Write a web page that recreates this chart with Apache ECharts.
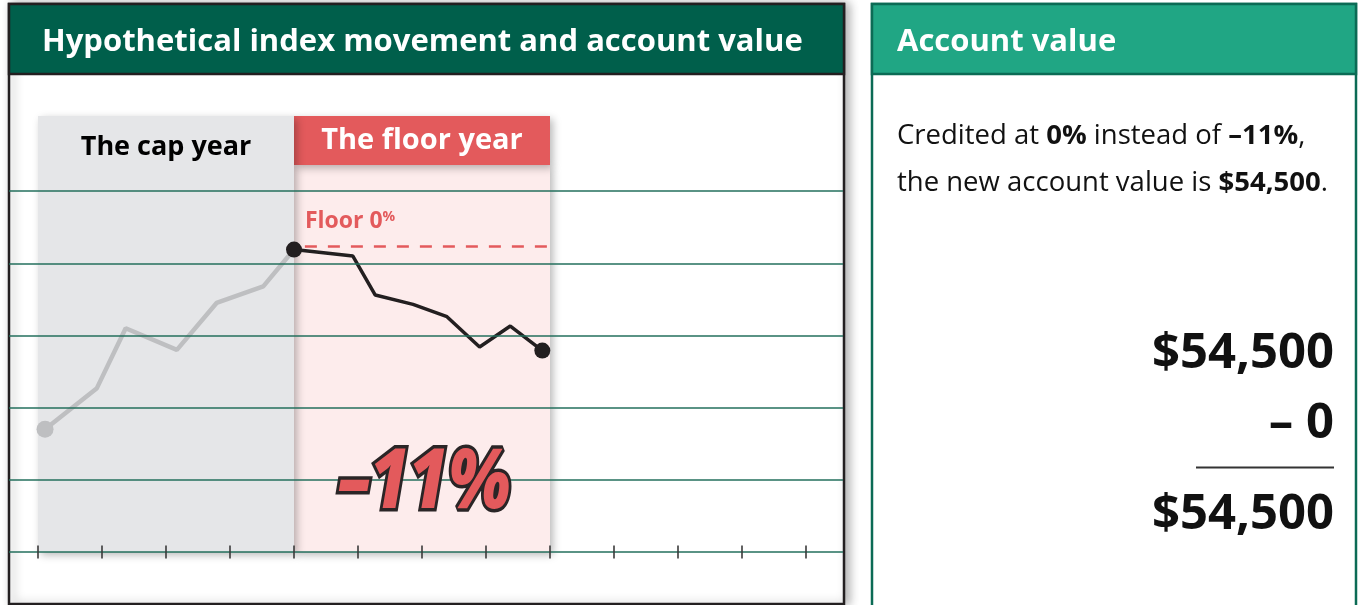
<!DOCTYPE html>
<html>
<head>
<meta charset="utf-8">
<script src="https://cdn.jsdelivr.net/npm/echarts@6/dist/echarts.min.js"></script>
<style>
  html, body { margin: 0; padding: 0; background: #fff; }
  #chart { width: 1361px; height: 605px; }
</style>
</head>
<body>
<div id="chart"></div>
<script>
// index path, x = tick step (12 steps on the axis), y = grid rows
const capX = [0.11, 0.92, 1.37, 2.17, 2.79, 3.52, 4.0];
const capY = [1.70, 2.27, 3.10, 2.80, 3.45, 3.68, 4.19];
const floorX = [4.0, 4.92, 5.27, 5.86, 6.39, 6.90, 7.38, 7.88];
const floorY = [4.19, 4.10, 3.56, 3.43, 3.26, 2.84, 3.13, 2.79];
const floorLevel = 4.23;

const yearNames = ['The cap year', 'The floor year'];
const yearSpans = [[0, 4], [4, 8]];
const xTicks = [0, 1, 2, 3, 4, 5, 6, 7, 8, 9, 10, 11, 12];
const yTicks = [0, 1, 2, 3, 4, 5];

const bandTop = 6.04;
const tabBottom = 5.36;

const chart = echarts.init(document.getElementById('chart'), null, { renderer: 'canvas' });

const font = '"Open Sans", "Lato", sans-serif';
const red = '#E35A5C';

function pairs(xs, ys) {
  return xs.map((x, i) => [x, ys[i]]);
}

const capData = pairs(capX, capY).map((p, i) => ({
  value: p,
  symbolSize: i === 0 ? 17 : 0
}));
const floorData = pairs(floorX, floorY).map((p, i) => ({
  value: p,
  symbolSize: (i === 0 || i === floorX.length - 1) ? 16 : 0
}));

const shadow = {
  shadowBlur: 8,
  shadowColor: 'rgba(0,0,0,0.28)',
  shadowOffsetX: 3,
  shadowOffsetY: 3
};

var option = {
  animation: false,
  backgroundColor: '#fff',
  grid: {
    left: 9,
    right: 518,
    top: 116,
    bottom: 53,
    containLabel: false
  },
  xAxis: {
    type: 'value',
    min: -29 / 64,
    max: 805 / 64,
    offset: -6.5,
    z: 6,
    axisLine: { show: false },
    axisLabel: { show: false },
    splitLine: { show: false },
    axisTick: {
      show: true,
      customValues: xTicks,
      length: 13,
      lineStyle: { color: '#3a3a3a', width: 1.6 }
    }
  },
  yAxis: {
    type: 'value',
    min: 0,
    max: bandTop,
    axisLine: { show: false },
    axisTick: { show: false },
    axisLabel: { show: false },
    splitLine: { show: false }
  },
  graphic: [
    // left panel
    {
      type: 'rect', z: -10,
      shape: { x: 9, y: 4, width: 835, height: 600 },
      style: { fill: '#fff', stroke: '#231F20', lineWidth: 2.5,
        shadowBlur: 10, shadowColor: 'rgba(0,0,0,0.3)', shadowOffsetX: 4 }
    },
    {
      type: 'rect', z: 10,
      shape: { x: 9, y: 4, width: 835, height: 70 },
      style: { fill: '#005F4B', stroke: '#231F20', lineWidth: 2.5 }
    },
    {
      type: 'text', z: 11, x: 42, y: 42,
      style: { text: 'Hypothetical index movement and account value', fill: '#fff',
        font: '700 31px ' + font, verticalAlign: 'middle' }
    },
    // -11% stamp
    {
      type: 'text', z: 20, x: 424, y: 484, scaleX: 0.8,
      style: {
        text: '–11%', fill: red, stroke: '#2a2526', lineWidth: 7,
        font: 'italic 800 84px ' + font,
        align: 'center', verticalAlign: 'middle',
        shadowBlur: 6, shadowColor: 'rgba(0,0,0,0.25)', shadowOffsetX: 3, shadowOffsetY: 3
      }
    },
    // right panel
    {
      type: 'rect', z: -10,
      shape: { x: 872, y: 4, width: 484, height: 610 },
      style: { fill: '#fff', stroke: '#0B6B55', lineWidth: 2.5 }
    },
    {
      type: 'rect', z: 10,
      shape: { x: 872, y: 4, width: 484, height: 70 },
      style: { fill: '#20A684', stroke: '#0B6B55', lineWidth: 2.5 }
    },
    {
      type: 'text', z: 11, x: 897, y: 42,
      style: { text: 'Account value', fill: '#fff', font: '700 31px ' + font,
        verticalAlign: 'middle' }
    },
    {
      type: 'text', z: 11, x: 897, y: 136,
      style: {
        text: 'Credited at {b|0%} instead of {b|–11%},', fill: '#111',
        font: '400 27.5px ' + font, verticalAlign: 'middle',
        rich: { b: { font: '700 27.5px ' + font, fill: '#111' } }
      }
    },
    {
      type: 'text', z: 11, x: 897, y: 183,
      style: {
        text: 'the new account value is {b|$54,500}.', fill: '#111',
        font: '400 27.5px ' + font, verticalAlign: 'middle',
        rich: { b: { font: '700 27.5px ' + font, fill: '#111' } }
      }
    },
    {
      type: 'text', z: 11, x: 1334, y: 354,
      style: { text: '$54,500', fill: '#111', font: '700 49px ' + font,
        align: 'right', verticalAlign: 'middle' }
    },
    {
      type: 'text', z: 11, x: 1334, y: 424,
      style: { text: '– 0', fill: '#111', font: '700 49px ' + font,
        align: 'right', verticalAlign: 'middle' }
    },
    {
      type: 'line', z: 11,
      shape: { x1: 1196, y1: 467.5, x2: 1334, y2: 467.5 },
      style: { stroke: '#333', lineWidth: 2 }
    },
    {
      type: 'text', z: 11, x: 1334, y: 515,
      style: { text: '$54,500', fill: '#111', font: '700 49px ' + font,
        align: 'right', verticalAlign: 'middle' }
    }
  ],
  series: [
    {
      // year bands
      type: 'line',
      z: 1,
      clip: false,
      data: [],
      markArea: {
        silent: true,
        data: [
          [
            { xAxis: yearSpans[1][0], yAxis: 0,
              itemStyle: Object.assign({ color: '#FDECEC' }, shadow) },
            { xAxis: yearSpans[1][1], yAxis: tabBottom }
          ],
          [
            { xAxis: yearSpans[1][0], yAxis: tabBottom, name: yearNames[1],
              itemStyle: Object.assign({ color: red }, shadow),
              label: { show: true, position: 'inside', color: '#fff',
                fontFamily: font, fontWeight: 700, fontSize: 29 } },
            { xAxis: yearSpans[1][1], yAxis: bandTop }
          ],
          [
            { xAxis: yearSpans[0][0], yAxis: 0, name: yearNames[0],
              itemStyle: Object.assign({ color: '#E5E6E8' }, shadow),
              label: { show: true, position: 'insideTop', distance: 18, color: '#000',
                fontFamily: font, fontWeight: 700, fontSize: 27 } },
            { xAxis: yearSpans[0][1], yAxis: bandTop }
          ]
        ]
      }
    },
    {
      // horizontal rules at each grid row
      type: 'line',
      z: 2,
      data: [],
      markLine: {
        silent: true,
        symbol: 'none',
        label: { show: false },
        lineStyle: { color: '#236f5c', width: 1.6, type: 'solid' },
        data: yTicks.map(v => ({ yAxis: v }))
      }
    },
    {
      type: 'line',
      z: 3,
      data: capData,
      symbol: 'circle',
      lineStyle: { color: '#BEBFC1', width: 4.5 },
      itemStyle: { color: '#BEBFC1' }
    },
    {
      type: 'line',
      z: 4,
      data: floorData,
      symbol: 'circle',
      lineStyle: { color: '#231F20', width: 3.5 },
      itemStyle: { color: '#231F20' },
      markLine: {
        silent: true,
        symbol: 'none',
        lineStyle: { color: red, type: [12, 11], width: 2.5 },
        label: {
          show: true,
          position: 'insideStartTop',
          distance: [0, 14],
          formatter: 'Floor 0{s|%}',
          color: red,
          fontFamily: font,
          fontWeight: 700,
          fontSize: 23,
          rich: { s: { fontSize: 14, fontWeight: 700, color: red, verticalAlign: 'top', padding: [0, 0, 8, 0] } }
        },
        data: [[
          { coord: [4.17, floorLevel] },
          { coord: [yearSpans[1][1], floorLevel] }
        ]]
      }
    }
  ]
};

chart.setOption(option);
</script>
</body>
</html>
